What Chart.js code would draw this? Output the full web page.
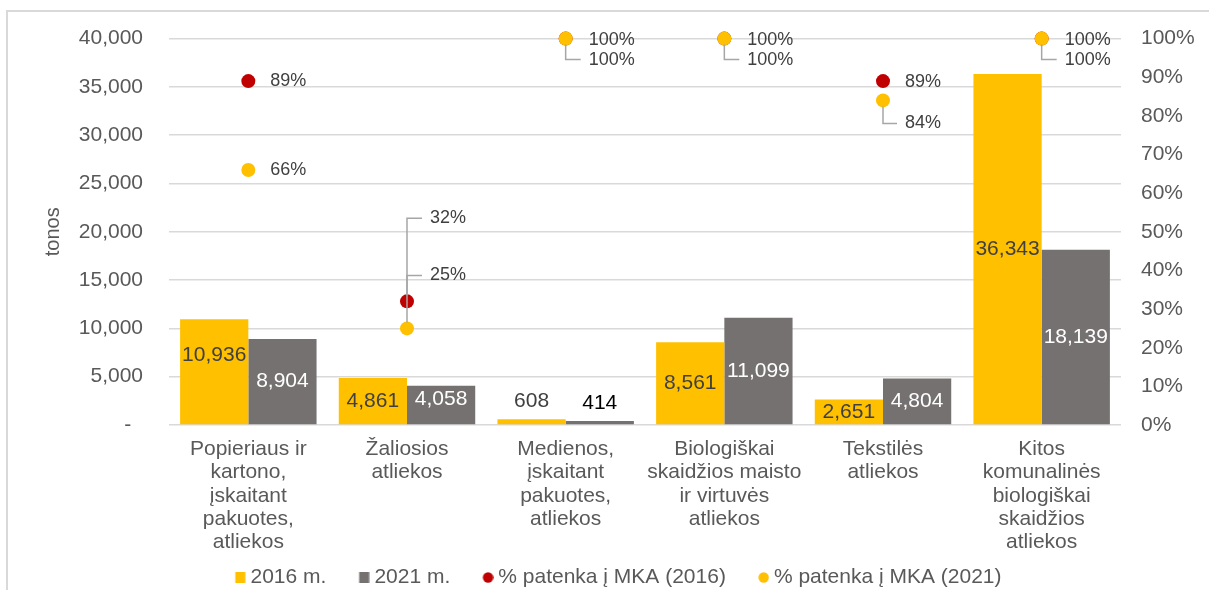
<!DOCTYPE html>
<html>
<head>
<meta charset="utf-8">
<script src="https://cdn.jsdelivr.net/npm/chart.js@4.4.1/dist/chart.umd.min.js"></script>
<style>
  html, body { margin: 0; padding: 0; background: #fff; overflow: hidden; }
  #frame { position: absolute; left: 6px; top: 10px; width: 1400px; height: 800px; border: 2px solid #D9D9D9; }
  #wrap { position: absolute; left: 0; top: 0; width: 1209px; height: 600px; }
</style>
</head>
<body>
<div id="frame"></div>
<div id="wrap"><canvas id="wasteChart"></canvas></div>
<script>
// Categories and values
const categories = [
    ['Popieriaus ir', 'kartono,', 'įskaitant', 'pakuotes,', 'atliekos'],
    ['Žaliosios', 'atliekos'],
    ['Medienos,', 'įskaitant', 'pakuotes,', 'atliekos'],
    ['Biologiškai', 'skaidžios maisto', 'ir virtuvės', 'atliekos'],
    ['Tekstilės', 'atliekos'],
    ['Kitos', 'komunalinės', 'biologiškai', 'skaidžios', 'atliekos']
];
const tonnes2016 = [10936, 4861, 608, 8561, 2651, 36343];
const tonnes2021 = [8904, 4058, 414, 11099, 4804, 18139];
const pctMka2016 = [89, 32, 100, 100, 89, 100];
const pctMka2021 = [66, 25, 100, 100, 84, 100];
const tonTicks = [0, 5000, 10000, 15000, 20000, 25000, 30000, 35000, 40000];
const pctTicks = [0, 10, 20, 30, 40, 50, 60, 70, 80, 90, 100];

const FONT = '"Liberation Sans", Arial, sans-serif';

// Small pixel nudges for a few labels, as placed in the original
const barLabelNudge = { 0: [-17, 0, 0, 0, 0, 0], 1: [0, -6, 0, 0, 0, 0] };
const pctLabelOffset = {
    2: [[22, 0], [23, -83], [23, 1], [23, 1], [22, 1], [23, 1]],
    3: [[22, 0], [23, -53], [23, 21], [23, 21], [22, 23], [23, 21]]
};

// Legend icons: a square for bars, a dot for the percentage series.
// The canvas is wider than the glyph so the glyph sits right next to its text.
const ICON_SLOT = 23.5;
function makeIcon(color, shape) {
    const c = document.createElement('canvas');
    c.width = Math.round(ICON_SLOT + 11);
    c.height = 11;
    const g = c.getContext('2d');
    const x0 = c.width - 11;
    g.fillStyle = color;
    if (shape === 'rect') {
        g.fillRect(x0 + 0.5, 0, 10, 11);
    } else {
        g.beginPath();
        g.arc(x0 + 5.5, 5.5, 5.2, 0, Math.PI * 2);
        g.fill();
    }
    return c;
}
const legendIcons = [
    makeIcon('#FFC000', 'rect'),
    makeIcon('#767171', 'rect'),
    makeIcon('#C00000', 'circle'),
    makeIcon('#FFC000', 'circle')
];

// Draws the value labels on bars and the percentage labels with leader lines
const labelPlugin = {
    id: 'valueLabels',
    afterDatasetsDraw(chart) {
        const ctx = chart.ctx;
        ctx.save();
        ctx.textBaseline = 'middle';

        [0, 1].forEach(di => {
            const meta = chart.getDatasetMeta(di);
            meta.data.forEach((bar, i) => {
                const value = chart.data.datasets[di].data[i];
                const h = bar.base - bar.y;
                let y = (bar.y + bar.base) / 2 + barLabelNudge[di][i];
                let color = di === 0 ? '#404040' : '#FFFFFF';
                if (h < 20) {
                    y = bar.y - 18;
                    color = di === 0 ? '#404040' : '#000000';
                }
                ctx.font = '21px ' + FONT;
                ctx.fillStyle = color;
                ctx.textAlign = 'center';
                ctx.fillText(value.toLocaleString('en-US'), bar.x, y);
            });
        });

        [2, 3].forEach(di => {
            const meta = chart.getDatasetMeta(di);
            meta.data.forEach((pt, i) => {
                const value = chart.data.datasets[di].data[i];
                const [dx, dy] = pctLabelOffset[di][i];
                const lx = pt.x + dx;
                const ly = pt.y + dy;
                if (Math.abs(dy) > 5) {
                    const r = 6;
                    ctx.strokeStyle = '#A6A6A6';
                    ctx.lineWidth = 1.5;
                    ctx.beginPath();
                    ctx.moveTo(pt.x, pt.y + (dy < 0 ? -r : r));
                    ctx.lineTo(pt.x, ly);
                    ctx.lineTo(lx - 8, ly);
                    ctx.stroke();
                }
                ctx.font = '18px ' + FONT;
                ctx.fillStyle = '#404040';
                ctx.textAlign = 'left';
                ctx.fillText(value + '%', lx, ly);
            });
        });
        ctx.restore();
    }
};

const tickFont = { family: FONT, size: 21 };

const chartCtx = document.getElementById('wasteChart').getContext('2d');
window.wasteChart = new Chart(chartCtx, {
    type: 'bar',
    data: {
        labels: categories,
        datasets: [
            {
                label: '2016 m.',
                data: tonnes2016,
                backgroundColor: '#FFC000',
                yAxisID: 'y',
                order: 2,
                categoryPercentage: 0.86,
                barPercentage: 1
            },
            {
                label: '2021 m.',
                data: tonnes2021,
                backgroundColor: '#767171',
                yAxisID: 'y',
                order: 3,
                categoryPercentage: 0.86,
                barPercentage: 1
            },
            {
                type: 'line',
                label: '% patenka į MKA (2016)',
                data: pctMka2016,
                yAxisID: 'y1',
                showLine: false,
                pointRadius: 7,
                pointBorderWidth: 0,
                backgroundColor: '#C00000',
                borderColor: '#C00000',
                order: 1,
                clip: false
            },
            {
                type: 'line',
                label: '% patenka į MKA (2021)',
                data: pctMka2021,
                yAxisID: 'y1',
                showLine: false,
                pointRadius: 7,
                pointBorderWidth: 0,
                backgroundColor: '#FFC000',
                borderColor: '#FFC000',
                order: 0,
                clip: false
            }
        ]
    },
    options: {
        responsive: true,
        maintainAspectRatio: false,
        animation: false,
        layout: { padding: { left: 9, right: 0, top: 38, bottom: 2 } },
        plugins: {
            tooltip: { enabled: false },
            legend: {
                position: 'bottom',
                labels: {
                    usePointStyle: true,
                    pointStyleWidth: ICON_SLOT,
                    boxHeight: 11,
                    padding: 14,
                    color: '#595959',
                    font: tickFont,
                    sort: (a, b) => a.datasetIndex - b.datasetIndex,
                    generateLabels(chart) {
                        const items = Chart.defaults.plugins.legend.labels.generateLabels(chart);
                        items.forEach(it => { it.pointStyle = legendIcons[it.datasetIndex]; });
                        return items;
                    }
                }
            }
        },
        scales: {
            x: {
                grid: { display: false },
                border: { display: false },
                ticks: {
                    color: '#595959',
                    font: { family: FONT, size: 21, lineHeight: 1.1 },
                    padding: 5,
                    maxRotation: 0,
                    autoSkip: false
                },
                afterFit: s => { s.height = 128; }
            },
            y: {
                position: 'left',
                min: 0,
                max: 40000,
                grid: { color: '#D9D9D9', lineWidth: 1.5, drawTicks: false },
                border: { display: false },
                afterBuildTicks: s => { s.ticks = tonTicks.map(v => ({ value: v })); },
                ticks: {
                    color: '#595959',
                    font: tickFont,
                    padding: 26,
                    callback: v => v === 0 ? '-  ' : v.toLocaleString('en-US')
                },
                title: {
                    display: true,
                    text: 'tonos',
                    color: '#595959',
                    font: { family: FONT, size: 20 },
                    padding: { top: 32, bottom: 0 }
                },
                afterFit: s => { s.width = 160; }
            },
            y1: {
                position: 'right',
                min: 0,
                max: 100,
                grid: { display: false, drawTicks: false },
                border: { display: false },
                afterBuildTicks: s => { s.ticks = pctTicks.map(v => ({ value: v })); },
                ticks: {
                    color: '#595959',
                    font: tickFont,
                    padding: 20,
                    callback: v => v + '%'
                },
                afterFit: s => { s.width = 88; }
            }
        }
    },
    plugins: [labelPlugin]
});
</script>
</body>
</html>
